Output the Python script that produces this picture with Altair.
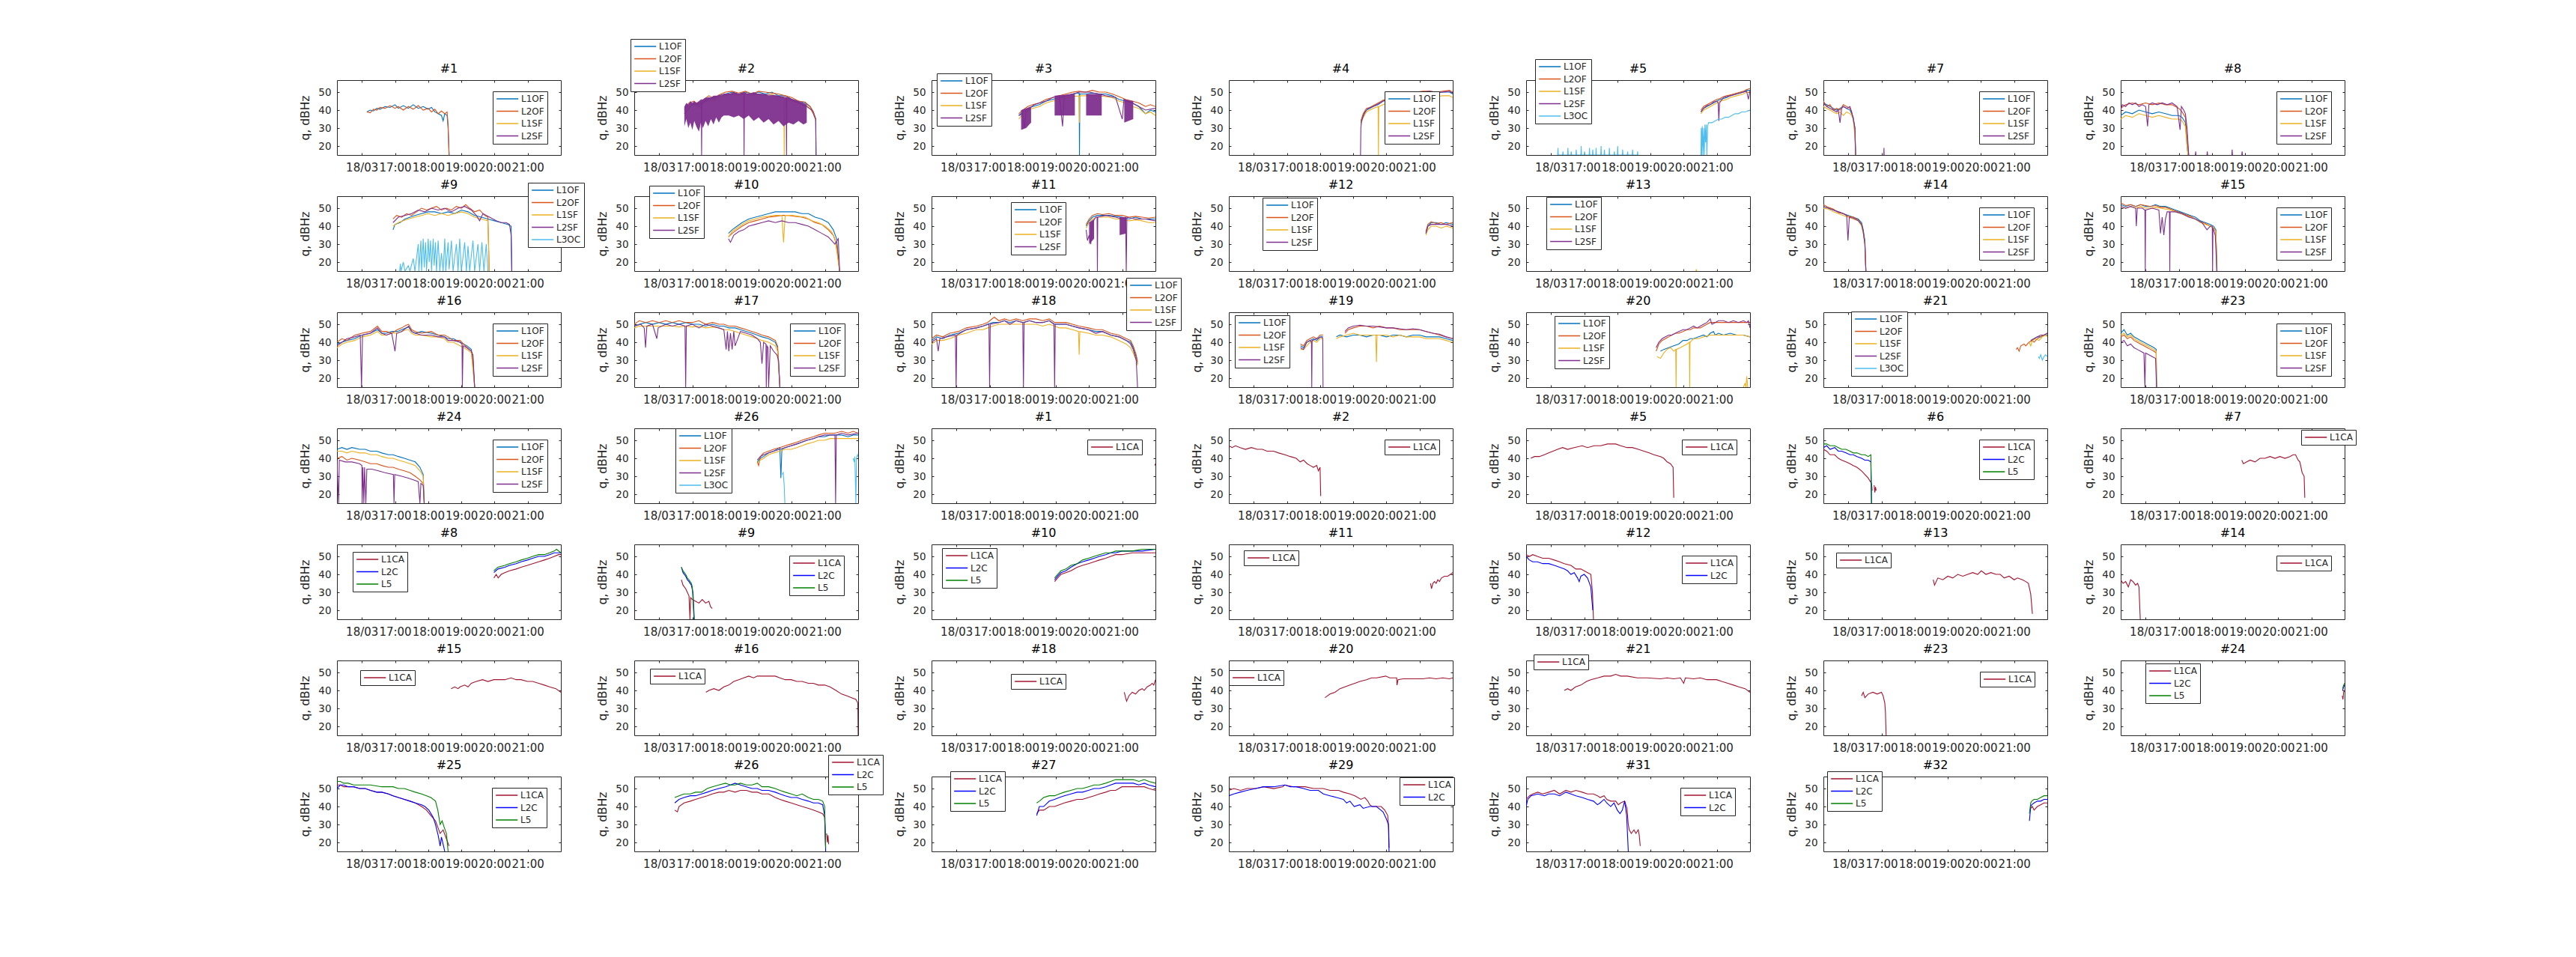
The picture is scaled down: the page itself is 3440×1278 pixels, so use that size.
import altair as alt
import pandas as pd

GLO4 = ["L1OF", "L2OF", "L1SF", "L2SF"]
GLO5 = ["L1OF", "L2OF", "L1SF", "L2SF", "L3OC"]
GPS1 = ["L1CA"]
GPS2 = ["L1CA", "L2C"]
GPS3 = ["L1CA", "L2C", "L5"]
COLORS = {"L1OF": "#0072BD", "L2OF": "#D95319", "L1SF": "#EDB120", "L2SF": "#7E2F8E",
          "L3OC": "#4DBEEE", "L1CA": "#A2142F", "L2C": "#0000FF", "L5": "#008000"}

X_TICKS = [16, 17, 18, 19, 20, 21]
Y_TICKS = [20, 30, 40, 50]
X_DOMAIN = [15.25, 22.0]
Y_DOMAIN = [15, 56.7]

# ---------------- GLONASS panels ----------------
G01 = {"title": "#1", "sigs": GLO4, "lines": {
    "L1OF": [[(16.15,39),(16.25,40),(16.35,39.5),(16.45,41),(16.55,40.5),(16.7,42),(16.85,41.5),(17.0,43),(17.1,41),(17.25,42.5),(17.4,41),(17.55,43),(17.7,41),(17.85,42),(18.0,40.5),(18.1,41.5),(18.2,39),(18.3,38),(18.4,37),(18.45,34),(18.5,38),(18.57,37),(18.6,30),(18.63,15)]],
    "L2OF": [[(16.15,39),(16.25,38.5),(16.35,40.5),(16.45,40),(16.55,41.5),(16.7,41),(16.85,42.5),(17.0,41),(17.1,42),(17.25,40),(17.4,42),(17.55,40.5),(17.7,42.5),(17.85,40),(18.0,41),(18.1,39),(18.2,40.5),(18.3,38),(18.4,39.5),(18.5,38),(18.57,39),(18.6,32),(18.63,15)]]}}

G02 = {"title": "#2", "sigs": GLO4, "lines": {
    "L1OF": [[(16.76,40),(16.9,43),(17.05,44),(17.2,42),(17.35,45),(17.5,47),(17.65,46),(17.8,48),(18.0,49),(18.2,50),(18.4,49),(18.6,50),(18.8,49),(19.0,50),(19.2,49),(19.4,50),(19.6,48),(19.8,48),(20.0,46),(20.2,45),(20.4,44),(20.55,42),(20.65,39),(20.72,35),(20.73,15)]],
    "L2OF": [[(16.76,41),(16.9,44),(17.05,45),(17.2,43),(17.35,46),(17.5,48),(17.65,46.5),(17.8,48.5),(18.0,50),(18.2,50.5),(18.4,49.5),(18.6,50.5),(18.8,49),(19.0,50.5),(19.2,50),(19.4,49.5),(19.6,49),(19.8,48),(20.0,47),(20.2,45),(20.4,44.5),(20.55,42),(20.65,39),(20.72,35)]],
    "L1SF": [[(16.76,39),(16.9,42),(17.05,43),(17.2,41),(17.35,44),(17.5,46),(17.65,45),(17.8,47),(18.0,48),(18.2,49),(18.4,48),(18.6,49),(18.8,48),(19.0,49),(19.2,48),(19.4,49),(19.6,47),(19.76,47),(19.77,15),(19.78,46),(20.0,45),(20.2,44),(20.4,43),(20.55,41),(20.65,38),(20.72,34)]],
    "L2SF": [[(16.76,38),(17.0,43),(17.27,44),(17.28,15),(17.29,44),(17.6,47),(18.0,49),(18.55,49),(18.56,15),(18.57,49),(19.0,49),(19.5,48),(19.83,47),(19.84,15),(19.85,47),(20.2,44),(20.45,42),(20.6,40),(20.72,35),(20.73,15)]]},
    "band": [[(16.76,31,42),(16.82,35,44),(16.88,30,43),(16.94,33,45),(17.0,29,44),(17.06,34,45),(17.12,31,44),(17.2,28,45),(17.26,33,46),(17.32,30,46),(17.4,34,47),(17.48,31,47),(17.56,35,47),(17.64,32,48),(17.72,36,48),(17.8,33,48),(17.88,36,48),(17.95,37,49),(18.1,37,49),(18.25,36,50),(18.4,37,49),(18.55,35,50),(18.7,37,49),(18.85,34,50),(19.0,36,49),(19.15,33,49),(19.3,35,48),(19.45,32,48),(19.6,34,48),(19.75,31,47),(19.9,33,47),(20.05,32,46),(20.2,34,45),(20.35,32,44),(20.45,33,43)]]}

G03 = {"title": "#3", "sigs": GLO4, "lines": {
    "L1OF": [[(17.88,37),(18.0,39),(18.15,41),(18.3,42),(18.5,43),(18.7,45),(18.9,46),(19.1,47),(19.3,48),(19.5,49),(19.7,49.5),(19.71,15),(19.72,49),(19.9,49),(20.1,49.5),(20.3,49),(20.5,49),(20.7,48),(20.9,46),(21.1,45),(21.3,44),(21.5,42),(21.7,38),(21.85,40),(22.0,39)]],
    "L2OF": [[(17.88,38),(18.0,40),(18.15,42),(18.3,43),(18.5,44),(18.7,46),(18.9,47),(19.1,48),(19.3,49),(19.5,50),(19.7,50.5),(19.9,50),(20.1,51),(20.3,50),(20.5,50),(20.7,49),(20.9,47.5),(21.1,46),(21.3,45),(21.5,44),(21.7,42),(21.85,43),(22.0,42)]],
    "L1SF": [[(17.88,35),(18.0,38),(18.15,40),(18.3,41),(18.5,42),(18.7,44),(18.9,45),(19.1,46),(19.3,47),(19.5,47.5),(19.7,48),(19.71,33),(19.72,48),(19.9,48),(20.1,48),(20.3,48),(20.5,47.5),(20.7,47),(20.9,45),(21.1,44),(21.3,42),(21.5,41),(21.7,38),(21.85,39),(22.0,37)]],
    "L2SF": [[(17.88,37),(18.0,38),(18.05,30),(18.1,39),(18.2,41),(18.35,43),(18.5,44),(18.7,45),(18.9,47),(19.1,48),(19.2,31),(19.25,48),(19.5,49),(19.7,50),(20.0,50),(20.3,49),(20.5,48),(20.8,47),(21.0,35),(21.05,46),(21.3,44),(21.5,42),(21.7,40),(22.0,41)]]},
    "band": [[(17.95,29,40),(18.1,30,41),(18.25,33,42)], [(18.96,37,48),(19.57,37,49)], [(19.91,37,49),(20.38,37,49)], [(21.06,33,46),(21.33,35,45)]]}

G04 = {"title": "#4", "sigs": GLO4, "lines": {
    "L1OF": [[(19.23,33),(19.3,37),(19.4,40),(19.5,41),(19.6,42),(19.75,43),(19.9,45),(20.1,46),(20.3,47),(20.5,48),(20.7,49),(20.9,49),(21.1,49.5),(21.3,50),(21.5,49.5),(21.7,50),(21.9,50),(22.0,49)]],
    "L2OF": [[(19.23,34),(19.3,38),(19.4,41),(19.5,41.5),(19.6,42.5),(19.75,44),(19.9,45.5),(20.1,46.5),(20.3,47.5),(20.5,48.5),(20.7,49.5),(20.9,50),(21.1,50.5),(21.3,50.5),(21.5,50),(21.7,50.5),(21.9,51),(22.0,50)]],
    "L1SF": [[(19.23,32),(19.3,36),(19.4,39),(19.5,40),(19.6,41),(19.75,42),(19.76,15),(19.77,42),(19.9,43),(20.1,44.5),(20.3,45.5),(20.5,46.5),(20.7,47.5),(20.9,47.5),(21.1,48),(21.3,48),(21.5,47.5),(21.7,48),(21.9,48),(22.0,47)]],
    "L2SF": [[(19.22,15),(19.23,30),(19.25,34),(19.35,39),(19.45,41),(19.6,42),(19.75,43.5),(19.9,45),(20.1,46),(20.3,47),(20.5,48),(20.7,49),(20.9,50),(21.1,50),(21.3,50.5),(21.5,50),(21.7,50),(21.9,50.5),(22.0,49.5)]]}}

G05 = {"title": "#5", "sigs": GLO5, "lines": {
    "L1OF": [[(20.52,39),(20.6,41),(20.7,42),(20.8,43),(20.9,44),(21.0,45),(21.1,46),(21.2,46.5),(21.3,47),(21.4,48),(21.5,48.5),(21.6,49),(21.7,49.5),(21.8,50),(21.9,51),(22.0,51)]],
    "L2OF": [[(20.52,40),(20.6,42),(20.7,43),(20.8,44),(20.9,45),(21.0,46),(21.1,46.5),(21.2,47.5),(21.3,48),(21.4,48.5),(21.5,49),(21.6,49.5),(21.7,50),(21.8,50.5),(21.9,51.5),(22.0,52)]],
    "L1SF": [[(20.52,38),(20.6,40),(20.7,41),(20.8,42),(20.9,43),(21.0,44),(21.1,45),(21.2,45.5),(21.3,46),(21.4,47),(21.5,47.5),(21.6,48),(21.7,48.5),(21.8,49),(21.9,50),(22.0,50)]],
    "L2SF": [[(20.52,39),(20.6,41),(20.7,42.5),(20.8,43),(20.9,44.5),(21.0,45),(21.04,44),(21.06,34),(21.08,44),(21.2,47),(21.3,47.5),(21.4,48),(21.5,48.5),(21.6,49),(21.7,49.5),(21.8,50),(21.9,50.5),(21.95,46),(22.0,51)]],
    "L3OC": [[(16.2,15),(16.21,19),(16.22,15),(16.35,15),(16.36,17),(16.37,15),(16.5,15),(16.51,19),(16.52,15),(16.6,15),(16.61,17),(16.62,15),(16.75,15),(16.76,18),(16.77,15),(16.9,15),(16.91,20),(16.92,15),(17.0,15),(17.01,17),(17.02,15),(17.15,15),(17.16,19),(17.17,15),(17.25,15),(17.26,18),(17.27,15),(17.35,15),(17.36,19),(17.37,15),(17.5,15),(17.51,20),(17.52,15),(17.6,15),(17.61,18),(17.62,15),(17.75,15),(17.76,19),(17.77,15),(17.9,15),(17.91,17),(17.92,15),(18.0,15),(18.01,20),(18.02,15),(18.15,15),(18.16,18),(18.17,15),(18.3,15),(18.31,17),(18.32,15),(18.45,15),(18.46,18),(18.47,15),(18.6,15),(18.61,17),(18.62,15)],
             [(20.52,15),(20.53,30),(20.54,15),(20.56,31),(20.58,15),(20.6,30),(20.62,15),(20.64,32),(20.66,22),(20.68,32),(20.7,15),(20.72,31),(20.75,33),(20.85,33),(20.95,34),(21.05,35),(21.15,35),(21.25,36),(21.35,36),(21.45,37),(21.55,38),(21.65,38),(21.75,39),(21.85,39),(22.0,40)]]}}

G07 = {"title": "#7", "sigs": GLO4, "lines": {
    "L1OF": [[(15.25,44),(15.35,43),(15.45,42),(15.55,41),(15.65,40),(15.75,41),(15.85,42),(15.95,41),(16.05,40),(16.1,38),(16.15,36),(16.2,30),(16.22,15)]],
    "L2OF": [[(15.25,45),(15.35,42),(15.45,43),(15.55,40),(15.65,41),(15.75,40),(15.85,43),(15.95,42),(16.05,41),(16.1,39),(16.15,35),(16.2,28),(16.22,15)]],
    "L1SF": [[(15.25,42),(15.35,41),(15.45,40),(15.55,39),(15.65,38),(15.75,39),(15.85,37),(15.95,39),(16.05,38),(16.1,37),(16.15,35),(16.2,25),(16.22,15)]],
    "L2SF": [[(15.25,44),(15.35,42),(15.45,41),(15.55,40),(15.65,39),(15.7,40),(15.75,33),(15.8,41),(15.85,42),(15.95,41),(16.05,42),(16.1,39),(16.15,35),(16.2,30),(16.22,15)],
             [(17.07,15),(17.075,19),(17.08,15)]]}}

G08 = {"title": "#8", "sigs": GLO4, "lines": {
    "L1OF": [[(15.25,37),(15.4,39),(15.6,38),(15.8,40),(16.0,39),(16.2,38),(16.4,39),(16.6,38),(16.8,37),(17.0,37),(17.1,36),(17.2,33),(17.25,20),(17.28,15)]],
    "L2OF": [[(15.25,41),(15.4,43),(15.6,44),(15.8,43),(16.0,44),(16.2,43),(16.4,44),(16.6,43),(16.8,43),(17.0,41),(17.1,39),(17.2,36),(17.25,25),(17.3,15)]],
    "L1SF": [[(15.25,35),(15.4,37),(15.6,36),(15.8,38),(16.0,37),(16.2,36),(16.4,37),(16.6,36),(16.8,35),(17.0,35),(17.1,34),(17.2,31),(17.25,20),(17.28,15)]],
    "L2SF": [[(15.25,40),(15.3,43),(15.4,42),(15.5,44),(15.6,43),(15.7,44),(15.8,42),(15.9,43),(16.0,42),(16.06,31),(16.1,43),(16.2,44),(16.35,43),(16.5,44),(16.65,43),(16.8,44),(16.95,42),(17.04,29),(17.08,42),(17.15,40),(17.2,38),(17.25,30),(17.3,15)],
             [(17.5,15),(17.51,17),(17.52,15)], [(17.85,15),(17.86,17),(17.87,15)], [(18.6,15),(18.61,18),(18.62,15)], [(18.9,15),(18.91,17),(18.92,15)]]}}

G09 = {"title": "#9", "sigs": GLO5, "lines": {
    "L1OF": [[(16.94,38),(17.0,41),(17.15,42),(17.3,44),(17.45,45),(17.6,46),(17.8,47),(18.0,48),(18.2,48),(18.4,47),(18.6,48),(18.8,47),(19.0,49),(19.2,48),(19.4,46),(19.6,45),(19.8,44),(20.0,43),(20.2,42),(20.4,41),(20.5,40),(20.52,15)]],
    "L2OF": [[(16.94,44),(17.05,46),(17.2,45),(17.35,47),(17.5,46),(17.65,48),(17.8,50),(17.95,49),(18.1,50),(18.25,51),(18.4,49),(18.55,50),(18.7,49),(18.85,51),(19.0,50),(19.13,52),(19.25,50),(19.4,48),(19.55,49),(19.7,46),(19.8,45),(19.84,15)]],
    "L1SF": [[(16.94,40),(17.1,42),(17.25,43),(17.4,44),(17.6,45),(17.8,46),(18.0,47),(18.2,46),(18.4,47),(18.6,46),(18.8,47),(19.0,48),(19.2,47),(19.4,45),(19.6,44),(19.8,43),(19.84,15)]],
    "L2SF": [[(16.94,42),(17.1,45),(17.3,46),(17.5,47),(17.7,49),(17.9,48),(18.1,50),(18.3,49),(18.5,50),(18.7,48),(18.9,50),(19.1,51),(19.3,49),(19.45,46),(19.55,43),(19.65,47),(19.85,45),(20.05,43),(20.2,42),(20.35,42),(20.45,41),(20.5,35),(20.52,15)]],
    "L3OC": [[(17.14,15),(17.16,19),(17.18,15),(17.25,20),(17.3,15),(17.4,18),(17.45,15),(17.55,22),(17.6,15),(17.7,30),(17.72,15),(17.78,32),(17.8,15),(17.85,33),(17.88,17),(17.92,31),(17.95,15),(18.0,33),(18.03,20),(18.07,32),(18.1,15),(18.15,33),(18.18,18),(18.22,31),(18.25,15),(18.3,32),(18.35,15),(18.4,25),(18.45,15),(18.5,33),(18.53,15),(18.6,31),(18.63,16),(18.7,32),(18.75,15),(18.85,30),(18.9,15),(18.95,33),(19.0,15),(19.1,31),(19.15,15),(19.2,29),(19.25,15),(19.35,32),(19.4,15),(19.5,30),(19.55,15),(19.62,31),(19.68,15),(19.75,30),(19.8,15)]]}}

G10 = {"title": "#10", "sigs": GLO4, "lines": {
    "L1OF": [[(18.09,36),(18.2,38),(18.35,40),(18.5,42),(18.7,44),(18.9,45),(19.1,46),(19.3,47),(19.5,48),(19.7,48),(19.9,48),(20.1,48),(20.3,47),(20.5,47),(20.7,45),(20.9,44),(21.1,42),(21.25,38),(21.35,33),(21.44,15)]],
    "L2OF": [[(18.09,34),(18.2,36),(18.35,38),(18.5,40),(18.7,42),(18.9,43),(19.1,44),(19.3,45),(19.5,45.5),(19.7,46),(19.9,46),(20.1,45.5),(20.3,45),(20.5,44),(20.7,42),(20.9,41),(21.1,38),(21.25,35),(21.35,30),(21.44,15)]],
    "L1SF": [[(18.09,34),(18.2,37),(18.35,39),(18.5,41),(18.7,43),(18.9,44),(19.1,45),(19.3,45.5),(19.5,46),(19.7,46),(19.75,31),(19.8,46),(20.0,46),(20.2,45.5),(20.4,45),(20.6,43),(20.8,42),(21.0,40),(21.2,37),(21.3,33),(21.44,15)]],
    "L2SF": [[(18.09,33),(18.15,31),(18.25,35),(18.4,37),(18.55,38),(18.7,40),(18.9,41),(19.1,42),(19.3,43),(19.5,42),(19.7,43),(19.9,42),(20.1,42),(20.3,41),(20.5,40),(20.7,38),(20.9,36),(21.1,34),(21.3,30),(21.4,33),(21.44,15)]]}}

G11 = {"title": "#11", "sigs": GLO4, "lines": {
    "L1OF": [[(19.91,40),(20.0,43),(20.1,45),(20.25,46),(20.4,46),(20.6,46),(20.8,45.5),(21.0,45),(21.2,44),(21.4,45),(21.6,44),(21.8,44),(22.0,44)]],
    "L2OF": [[(19.91,41),(20.0,44),(20.1,46),(20.25,47),(20.4,46.5),(20.6,47),(20.8,46),(21.0,46),(21.2,45),(21.4,45.5),(21.6,45),(21.8,44.5),(22.0,45)]],
    "L1SF": [[(19.91,39),(20.0,42),(20.1,44),(20.25,45),(20.4,45),(20.6,45),(20.8,44),(21.0,44),(21.2,43),(21.4,43.5),(21.6,43),(21.8,42),(22.0,42)]],
    "L2SF": [[(19.91,38),(19.95,32),(20.0,35),(20.05,30),(20.1,42),(20.2,45),(20.24,45),(20.25,15),(20.26,45),(20.5,46),(20.8,45),(21.0,44),(21.1,45),(21.12,15),(21.14,45),(21.4,44),(21.7,44),(22.0,43)]]},
    "band": [[(20.0,30,42),(20.15,33,44)], [(20.92,35,45),(21.12,36,45)]]}

G12 = {"title": "#12", "sigs": GLO4, "lines": {
    "L1OF": [[(21.19,36),(21.25,40),(21.35,42),(21.5,42),(21.65,41),(21.8,42),(22.0,41)]],
    "L2OF": [[(21.19,37),(21.25,41),(21.35,42.5),(21.5,41.5),(21.65,42),(21.8,41),(22.0,42)]],
    "L1SF": [[(21.19,35),(21.25,38),(21.35,40),(21.5,40),(21.65,39),(21.8,40),(22.0,39)]],
    "L2SF": [[(21.19,36),(21.25,40),(21.35,41),(21.5,41),(21.65,41),(21.8,41),(22.0,40)]]}}

G13 = {"title": "#13", "sigs": GLO4, "lines": {
    "L1SF": [[(20.37,15),(20.38,16),(20.39,15)]]}}

G14 = {"title": "#14", "sigs": GLO4, "lines": {
    "L1OF": [[(15.25,51),(15.4,50),(15.55,49),(15.7,48),(15.85,47),(16.0,46),(16.15,45),(16.3,44),(16.4,42),(16.45,38),(16.5,32),(16.53,15)]],
    "L2OF": [[(15.25,52),(15.4,50.5),(15.55,49.5),(15.7,47.5),(15.85,47),(16.0,45.5),(16.15,45),(16.3,43.5),(16.4,41),(16.45,37),(16.5,30),(16.53,15)]],
    "L1SF": [[(15.25,50),(15.4,49.5),(15.55,48),(15.7,47),(15.85,46),(16.0,45),(16.15,44),(16.3,43),(16.4,40),(16.45,36),(16.5,30),(16.53,15)]],
    "L2SF": [[(15.25,51),(15.4,50),(15.55,49),(15.7,48),(15.85,47),(15.95,46),(15.99,32),(16.03,45),(16.15,44.5),(16.3,43),(16.4,41),(16.45,37),(16.5,30),(16.53,15)]]}}

G15 = {"title": "#15", "sigs": GLO4, "lines": {
    "L1OF": [[(15.25,52),(15.4,51),(15.55,52),(15.7,51),(15.85,52),(16.0,51),(16.15,51),(16.3,52),(16.45,51),(16.6,51),(16.75,50),(16.9,49),(17.05,48),(17.2,47),(17.35,46),(17.5,45),(17.65,43),(17.8,42),(17.95,41),(18.05,40),(18.12,38),(18.15,15)]],
    "L2OF": [[(15.25,53),(15.4,51.5),(15.55,52),(15.7,51),(15.85,52),(16.0,51.5),(16.15,51),(16.3,51.5),(16.45,50.5),(16.6,50.5),(16.75,49.5),(16.9,48.5),(17.05,47.5),(17.2,46.5),(17.35,45.5),(17.5,44),(17.65,42.5),(17.8,41.5),(17.95,40),(18.05,39),(18.12,37),(18.15,15)]],
    "L1SF": [[(15.25,51),(15.4,50),(15.55,51),(15.7,50),(15.85,51),(16.0,50),(16.15,50),(16.3,50.5),(16.45,50),(16.6,49.5),(16.75,49),(16.9,48),(17.05,47),(17.2,46),(17.35,45),(17.5,44),(17.65,42),(17.8,41),(17.95,40),(18.05,39),(18.12,37),(18.15,15)]],
    "L2SF": [[(15.25,51),(15.4,50),(15.55,51),(15.7,50),(15.72,40),(15.75,50),(15.9,50),(15.98,49),(15.99,15),(16.0,49),(16.2,50),(16.4,49),(16.45,36),(16.5,45),(16.55,35),(16.6,44),(16.65,48),(16.72,48),(16.73,15),(16.74,48),(16.9,48),(17.1,47),(17.3,45),(17.5,44),(17.7,42),(17.85,38),(17.95,40),(18.01,40),(18.02,15),(18.03,39),(18.1,35),(18.15,15)]]}}

G16 = {"title": "#16", "sigs": GLO4, "lines": {
    "L1OF": [[(15.25,39),(15.4,40),(15.55,41),(15.79,42),(16.0,44),(16.26,45),(16.47,47),(16.6,45),(16.74,45),(16.9,46),(17.07,46),(17.2,47),(17.34,48),(17.41,48.5),(17.5,46),(17.61,45),(17.8,46),(18.09,45),(18.3,44),(18.49,43),(18.6,42),(18.76,42),(18.96,40),(19.17,38),(19.3,36),(19.35,30),(19.4,15)]],
    "L2OF": [[(15.25,40),(15.4,42),(15.55,41),(15.79,44),(16.0,45),(16.26,46),(16.47,49),(16.6,46),(16.74,46),(16.9,45),(17.07,47),(17.2,48),(17.34,49.5),(17.41,50),(17.5,47),(17.61,46),(17.8,45),(18.09,46),(18.3,44),(18.49,44),(18.6,43),(18.76,41),(18.96,41),(19.17,37),(19.3,35),(19.35,28),(19.4,15)]],
    "L1SF": [[(15.25,37),(15.4,39),(15.55,40),(15.79,41),(16.0,43),(16.26,44),(16.47,46),(16.6,44),(16.74,44),(16.9,45),(17.07,45),(17.2,46),(17.34,47),(17.41,47),(17.5,45),(17.61,44),(17.8,44),(18.09,43),(18.3,43),(18.49,42),(18.6,40),(18.76,40),(18.96,38),(19.17,36),(19.3,34),(19.4,15)]],
    "L2SF": [[(15.25,38),(15.4,40),(15.55,42),(15.79,43),(15.95,44),(15.99,15),(16.02,44),(16.26,45),(16.47,48),(16.6,45),(16.74,44),(16.9,45),(17.0,35),(17.05,45),(17.2,46),(17.34,48),(17.41,49),(17.5,46),(17.61,45),(17.8,44),(18.09,44),(18.3,43),(18.49,43),(18.6,41),(18.76,41),(18.96,40),(19.02,39),(19.03,15),(19.05,38),(19.17,37),(19.3,35),(19.35,33),(19.4,15)]]}}

G17 = {"title": "#17", "sigs": GLO4, "lines": {
    "L1OF": [[(15.25,49),(15.4,50),(15.6,51),(15.8,50),(16.0,51),(16.2,50),(16.4,51),(16.6,50),(16.8,51),(17.0,50),(17.2,50),(17.4,49),(17.61,50),(17.8,49),(17.95,49),(18.1,48),(18.29,48),(18.45,47),(18.63,46),(18.8,45),(18.96,44),(19.1,43),(19.3,42),(19.5,40),(19.57,37),(19.64,15)]],
    "L2OF": [[(15.25,50),(15.4,52),(15.6,51),(15.8,52),(16.0,51),(16.2,52),(16.4,51),(16.6,52),(16.8,51),(17.0,51),(17.2,52),(17.4,50),(17.61,51),(17.8,50),(17.95,50),(18.1,49),(18.29,49),(18.45,48),(18.63,47),(18.8,46),(18.96,45),(19.1,44),(19.3,43),(19.5,41),(19.57,38),(19.64,15)]],
    "L1SF": [[(15.25,48),(15.4,49),(15.6,49),(15.8,49),(16.0,49),(16.2,49),(16.4,49),(16.6,48.5),(16.8,49),(17.0,48.5),(17.2,49),(17.4,48),(17.61,48.5),(17.8,48),(17.95,47),(18.1,47),(18.29,46),(18.45,45),(18.63,44),(18.8,43),(18.96,42),(19.1,41),(19.3,40),(19.5,38),(19.57,35),(19.64,15)]],
    "L2SF": [[(15.25,49),(15.45,50),(15.55,48),(15.59,37),(15.63,49),(15.8,50),(15.93,42),(15.97,48),(16.2,50),(16.4,49),(16.6,50),(16.78,49),(16.8,15),(16.82,49),(17.0,50),(17.2,48),(17.4,50),(17.61,49),(17.8,48),(17.95,47),(18.02,36),(18.06,46),(18.1,35),(18.15,45),(18.2,36),(18.25,46),(18.29,38),(18.45,46),(18.63,45),(18.8,44),(18.96,42),(19.05,40),(19.1,28),(19.15,40),(19.22,39),(19.23,15),(19.25,38),(19.28,37),(19.3,15),(19.35,38),(19.45,35),(19.55,33),(19.6,30),(19.64,15)]]}}

G18 = {"title": "#18", "sigs": GLO4, "lines": {
    "L1OF": [[(15.25,41),(15.4,43),(15.59,42),(15.8,44),(16.06,45),(16.3,47),(16.6,48),(16.8,49),(16.94,50),(17.1,51),(17.28,51),(17.45,52),(17.61,51),(17.8,52),(18.0,51),(18.2,52),(18.4,51),(18.6,51),(18.8,52),(18.96,50),(19.1,50),(19.3,50),(19.5,49),(19.7,48),(19.98,47),(20.2,46),(20.4,46),(20.65,44),(20.9,43),(21.12,41),(21.25,40),(21.33,37),(21.42,32),(21.46,28)]],
    "L2OF": [[(15.25,42),(15.4,44),(15.59,43),(15.8,45),(16.06,46),(16.3,48),(16.6,49),(16.8,50),(16.94,51),(17.14,54),(17.28,52),(17.45,53),(17.61,52),(17.8,53),(18.0,52),(18.2,53),(18.4,53),(18.6,52),(18.8,53),(18.96,51),(19.1,51),(19.3,51),(19.5,50),(19.7,49),(19.98,48),(20.2,47),(20.4,47),(20.65,45),(20.9,44),(21.12,42),(21.25,41),(21.33,38),(21.42,33),(21.46,29)]],
    "L1SF": [[(15.25,39),(15.4,41),(15.59,41),(15.8,42),(16.06,44),(16.3,45),(16.6,47),(16.8,47),(16.94,48),(17.1,49),(17.28,50),(17.45,50),(17.61,50),(17.8,50),(18.0,50),(18.2,50),(18.4,50),(18.6,49),(18.8,50),(18.96,49),(19.1,48),(19.3,48),(19.5,47),(19.68,46),(19.7,33),(19.72,46),(19.98,45),(20.2,44),(20.4,44),(20.65,43),(20.9,41),(21.12,39),(21.25,37),(21.33,34),(21.42,30),(21.46,27)]],
    "L2SF": [[(15.25,40),(15.4,42),(15.45,35),(15.5,42),(15.7,43),(15.97,44),(15.99,15),(16.01,44),(16.3,47),(16.6,48),(16.8,49),(16.98,50),(17.0,15),(17.02,50),(17.28,51),(17.45,52),(17.61,50),(17.8,52),(18.0,51),(18.02,15),(18.04,51),(18.2,52),(18.4,51),(18.6,51),(18.8,52),(18.94,50),(18.96,15),(18.98,50),(19.3,50),(19.5,49),(19.7,48),(19.98,47),(20.2,45),(20.4,46),(20.65,44),(20.9,43),(21.12,41),(21.25,39),(21.33,36),(21.42,30),(21.46,15)]]}}

G19 = {"title": "#19", "sigs": GLO4, "lines": {
    "L1OF": [[(17.41,38),(17.5,37),(17.6,40),(17.7,41),(17.8,42),(17.9,41),(18.0,43),(18.09,43)],
             [(18.49,43),(18.6,44),(18.8,43),(19.0,44),(19.2,44),(19.4,43),(19.6,44),(19.8,44),(20.0,43),(20.2,44),(20.4,44),(20.6,43),(20.8,44),(21.0,44),(21.2,43),(21.4,43),(21.6,43),(21.8,42),(22.0,41)]],
    "L2OF": [[(17.41,39),(17.5,38),(17.6,41),(17.7,42),(17.8,43),(17.9,42),(18.0,44),(18.09,44)],
             [(18.75,45),(18.85,47),(19.0,48),(19.2,49),(19.4,49),(19.6,48),(19.8,49),(20.0,48),(20.2,48),(20.4,47),(20.6,47),(20.8,47),(21.0,47),(21.2,46),(21.4,45),(21.6,44),(21.8,43),(22.0,42)]],
    "L1SF": [[(17.41,36),(17.5,36),(17.6,38),(17.7,40),(17.8,41),(17.9,40),(18.0,42),(18.09,42)],
             [(18.49,42),(18.6,43),(18.8,44),(19.0,45),(19.2,44),(19.4,44),(19.6,44),(19.68,44),(19.7,29),(19.72,44),(20.0,44),(20.2,43),(20.4,44),(20.6,43),(20.8,43),(21.0,43),(21.2,42),(21.4,42),(21.6,42),(21.8,41),(22.0,40)]],
    "L2SF": [[(17.41,37),(17.5,36),(17.6,40),(17.7,41),(17.74,40),(17.75,15),(17.76,41),(17.9,42),(18.05,43),(18.08,42),(18.09,15)],
             [(18.75,46),(18.85,48),(19.0,49),(19.2,49.5),(19.4,49),(19.6,49),(19.8,48.5),(20.0,48),(20.2,48),(20.4,47.5),(20.6,47),(20.8,47.5),(21.0,47),(21.2,46),(21.4,45),(21.6,44.5),(21.8,43),(22.0,42)]]}}

G20 = {"title": "#20", "sigs": GLO4, "lines": {
    "L1OF": [[(19.3,35),(19.4,36),(19.55,37),(19.7,38),(19.85,39),(19.98,41),(20.1,41),(20.2,42),(20.3,42),(20.45,43),(20.6,44),(20.7,43),(20.8,45),(20.9,46),(20.95,44),(21.05,45),(21.2,44),(21.4,45),(21.6,44),(21.8,44),(22.0,43)]],
    "L2OF": [[(19.17,35),(19.25,39),(19.35,41),(19.45,42),(19.55,43),(19.64,44),(19.75,45),(19.85,45),(19.98,46),(20.1,47),(20.2,47),(20.3,48),(20.4,48),(20.5,48),(20.6,49),(20.7,50),(20.8,51),(20.95,51),(21.1,51),(21.3,51),(21.5,51),(21.7,51),(21.9,51),(22.0,51)]],
    "L1SF": [[(19.2,32),(19.3,31),(19.4,34),(19.5,36),(19.6,37),(19.7,35),(19.76,36),(19.77,15),(19.78,36),(19.9,37),(20.0,38),(20.1,39),(20.17,40),(20.18,15),(20.19,40),(20.3,42),(20.45,42),(20.6,43),(20.8,44),(21.0,44),(21.2,44),(21.4,44),(21.6,44),(21.8,44),(22.0,43)],
             [(21.8,15),(21.85,17),(21.88,15),(21.9,21),(21.93,15)]],
    "L2SF": [[(19.17,37),(19.25,40),(19.35,42),(19.45,43),(19.55,44),(19.64,44),(19.75,45),(19.85,46),(19.98,47),(20.1,47),(20.2,48),(20.3,49),(20.4,48),(20.5,49),(20.6,50),(20.7,51),(20.8,53),(20.85,50),(20.95,51),(21.05,52),(21.2,52),(21.35,51),(21.5,52),(21.65,51),(21.8,52),(21.9,51),(21.95,52),(22.0,48)]]}}

G21 = {"title": "#21", "sigs": GLO5, "lines": {
    "L1OF": [[(21.5,41),(21.6,42),(21.7,43),(21.8,43),(21.9,44),(22.0,44)]],
    "L2OF": [[(21.06,36),(21.1,37),(21.15,35),(21.2,38),(21.3,39),(21.35,38),(21.45,40),(21.55,41),(21.6,40),(21.7,42),(21.8,43),(21.9,44),(22.0,45)]],
    "L1SF": [[(21.45,40),(21.5,38),(21.55,41),(21.65,42),(21.75,41),(21.85,43),(21.95,44),(22.0,43)]],
    "L2SF": [[(21.5,41),(21.6,42),(21.7,43),(21.8,44),(21.9,44),(22.0,45)]],
    "L3OC": [[(21.73,32),(21.76,31),(21.8,33),(21.85,30),(21.9,32),(21.95,33),(22.0,32)]]}}

G23 = {"title": "#23", "sigs": GLO4, "lines": {
    "L1OF": [[(15.25,45),(15.35,47),(15.45,44),(15.55,45),(15.65,43),(15.75,42),(15.85,41),(15.95,40),(16.05,39),(16.15,38),(16.25,37),(16.32,36),(16.33,15)]],
    "L2OF": [[(15.25,43),(15.35,44),(15.45,42),(15.55,43),(15.65,41),(15.75,40),(15.85,39),(15.95,38),(16.05,37),(16.15,36),(16.25,35),(16.32,34),(16.33,15)]],
    "L1SF": [[(15.25,44),(15.35,45),(15.45,43),(15.55,44),(15.65,42),(15.75,41),(15.85,40),(15.95,39),(16.05,38),(16.15,37),(16.25,36),(16.32,35),(16.33,15)]],
    "L2SF": [[(15.25,40),(15.35,41),(15.45,38),(15.55,39),(15.65,37),(15.75,36),(15.85,35),(15.95,34),(15.98,15),(16.0,34),(16.1,33),(16.2,32),(16.3,31),(16.33,15)]]}}

G24 = {"title": "#24", "sigs": GLO4, "lines": {
    "L1OF": [[(15.25,45),(15.4,46),(15.55,45),(15.7,46),(15.93,45),(16.1,45),(16.26,44),(16.45,44),(16.6,43),(16.8,42),(16.94,42),(17.1,41),(17.28,40),(17.45,39),(17.61,38),(17.75,35),(17.85,31),(17.88,15)]],
    "L2OF": [[(15.25,40),(15.4,41),(15.55,39),(15.7,40),(15.93,39),(16.1,38),(16.26,37),(16.45,37),(16.6,36),(16.8,35),(16.94,35),(17.1,34),(17.28,33),(17.45,32),(17.61,30),(17.75,28),(17.85,26),(17.88,15)]],
    "L1SF": [[(15.25,44),(15.4,44),(15.55,43),(15.7,44),(15.93,43),(16.1,43),(16.26,42),(16.45,42),(16.6,41),(16.8,40),(16.94,40),(17.1,39),(17.28,38),(17.45,37),(17.61,36),(17.75,33),(17.85,30),(17.88,15)]],
    "L2SF": [[(15.25,39),(15.3,15),(15.32,39),(15.5,38),(15.7,38),(15.93,37),(16.0,36),(16.01,15),(16.03,35),(16.06,15),(16.08,35),(16.12,15),(16.15,34),(16.3,34),(16.5,33),(16.7,32),(16.95,31),(16.97,15),(16.99,31),(17.2,30),(17.4,29),(17.55,28),(17.7,27),(17.75,15),(17.78,26),(17.85,25),(17.88,15)]]}}

G26 = {"title": "#26", "sigs": GLO5, "lines": {
    "L1OF": [[(18.96,38),(19.05,40),(19.15,41),(19.3,43),(19.45,44),(19.55,45),(19.64,46),(19.67,29),(19.7,45),(19.8,46),(19.98,47),(20.15,48),(20.3,49),(20.45,50),(20.65,51),(20.8,52),(20.99,52),(21.15,53),(21.3,53),(21.5,53),(21.7,52),(21.85,53),(22.0,53)]],
    "L2OF": [[(18.96,38),(19.0,36),(19.05,41),(19.15,43),(19.3,44),(19.45,45),(19.64,46),(19.8,47),(19.98,48),(20.15,49),(20.3,50),(20.45,51),(20.65,52),(20.8,53),(20.99,54),(21.15,54),(21.3,54),(21.5,55),(21.7,54),(21.85,55),(22.0,54)]],
    "L1SF": [[(18.96,37),(19.05,39),(19.15,40),(19.3,42),(19.45,43),(19.64,44),(19.8,45),(19.98,45),(20.15,46),(20.3,47),(20.45,48),(20.65,49),(20.8,50),(20.99,50),(21.15,51),(21.3,51),(21.5,51),(21.7,51),(21.85,51),(22.0,51)]],
    "L2SF": [[(18.96,39),(19.05,41),(19.15,42),(19.3,43),(19.45,44),(19.64,45),(19.8,46),(19.98,47),(20.15,48),(20.3,49),(20.45,50),(20.65,51),(20.8,52),(20.99,53),(21.3,53),(21.32,15),(21.34,53),(21.5,54),(21.7,53),(22.0,54)]],
    "L3OC": [[(19.71,31),(19.74,32),(19.77,25),(19.79,15)],
             [(21.85,40),(21.88,38),(21.9,41),(21.93,15),(21.95,40),(21.98,42),(22.0,41)]]}}

# ---------------- GPS panels ----------------
P01 = {"title": "#1", "sigs": GPS1, "lines": {"L1CA": [[(21.98,36),(22.0,37)]]}}

P02 = {"title": "#2", "sigs": GPS1, "lines": {
    "L1CA": [[(15.25,47),(15.35,46),(15.45,47),(15.59,46),(15.75,45),(15.93,46),(16.1,45),(16.26,45),(16.4,44),(16.6,44),(16.75,43),(16.94,42),(17.1,41),(17.28,40),(17.4,38),(17.5,39),(17.61,37),(17.7,36),(17.8,35),(17.9,36),(17.95,33),(18.0,35),(18.02,19)]]}}

P05 = {"title": "#5", "sigs": GPS1, "lines": {
    "L1CA": [[(15.39,40),(15.5,41),(15.65,41),(15.8,42),(15.93,43),(16.06,44),(16.2,45),(16.35,46),(16.5,45),(16.7,46),(16.94,47),(17.1,46),(17.3,47),(17.5,47),(17.7,48),(17.95,48),(18.1,47),(18.29,46),(18.45,46),(18.63,45),(18.8,44),(18.96,43),(19.1,42),(19.3,41),(19.4,40),(19.5,38),(19.6,37),(19.68,35),(19.7,18)]]}}

P06 = {"title": "#6", "sigs": GPS3, "lines": {
    "L1CA": [[(15.25,45),(15.35,44),(15.45,42),(15.59,42),(15.7,40),(15.8,39),(15.93,38),(16.05,37),(16.15,36),(16.26,35),(16.4,33),(16.5,31),(16.6,29),(16.7,26),(16.72,22)],
             [(16.78,25),(16.8,21),(16.82,24),(16.84,22)]],
    "L2C": [[(15.25,46),(15.35,47),(15.45,45),(15.59,46),(15.7,44),(15.8,44),(15.93,43),(16.05,42),(16.15,42),(16.26,41),(16.4,40),(16.5,39),(16.6,39),(16.68,38),(16.7,15)]],
    "L5": [[(15.25,48),(15.35,48),(15.45,47),(15.59,47),(15.7,46),(15.8,45),(15.93,45),(16.05,44),(16.15,43),(16.26,43),(16.4,42),(16.5,42),(16.6,41),(16.68,42),(16.7,15)]]}}

P07 = {"title": "#7", "sigs": GPS1, "lines": {
    "L1CA": [[(18.9,39),(18.95,37),(19.05,38),(19.15,39),(19.3,38),(19.45,40),(19.6,40),(19.75,41),(19.9,40),(20.05,41),(20.2,40),(20.35,41),(20.45,42),(20.52,42),(20.6,39),(20.65,38),(20.72,32),(20.78,30),(20.8,18)]]}}

P08 = {"title": "#8", "sigs": GPS3, "lines": {
    "L1CA": [[(19.98,38),(20.05,40),(20.11,38),(20.2,40),(20.31,41),(20.45,42),(20.65,43),(20.8,44),(20.99,45),(21.15,46),(21.33,47),(21.5,48),(21.66,49),(21.8,50),(21.93,51),(22.0,51)]],
    "L2C": [[(19.98,41),(20.1,43),(20.31,44),(20.45,45),(20.65,46),(20.8,47),(20.99,48),(21.15,49),(21.33,50),(21.5,50),(21.66,51),(21.8,52),(21.87,52),(22.0,52)]],
    "L5": [[(19.98,42),(20.1,44),(20.31,45),(20.45,46),(20.65,47),(20.8,48),(20.99,49),(21.15,50),(21.33,51),(21.5,51),(21.66,52),(21.8,53),(21.87,54),(22.0,52)]]}}

P09 = {"title": "#9", "sigs": GPS3, "lines": {
    "L1CA": [[(16.67,37),(16.72,34),(16.8,32),(16.85,30),(16.9,28),(16.93,15),(16.95,27),(17.0,26),(17.1,25),(17.2,24),(17.3,26),(17.4,24),(17.5,25),(17.55,22),(17.6,21)]],
    "L2C": [[(16.67,44),(16.72,41),(16.8,39),(16.85,37),(16.9,36),(16.97,34),(17.02,30),(17.06,15)]],
    "L5": [[(16.67,44),(16.72,42),(16.8,40),(16.85,38),(16.9,37),(16.97,35),(17.0,33),(17.05,15)]]}}

P10 = {"title": "#10", "sigs": GPS3, "lines": {
    "L1CA": [[(18.96,36),(19.05,38),(19.15,40),(19.3,41),(19.45,42),(19.64,44),(19.8,45),(19.98,46),(20.15,47),(20.31,48),(20.5,49),(20.65,50),(20.8,51),(20.99,51),(21.3,52),(21.6,52),(22.0,52)]],
    "L2C": [[(18.96,37),(19.05,39),(19.15,41),(19.3,42),(19.45,44),(19.64,46),(19.8,47),(19.98,48),(20.15,49),(20.31,50),(20.5,51),(20.65,52),(20.8,52),(20.99,53),(21.3,53),(21.6,53),(22.0,54)]],
    "L5": [[(18.96,38),(19.05,40),(19.15,42),(19.3,43),(19.45,45),(19.64,46),(19.8,48),(19.98,49),(20.15,50),(20.31,51),(20.5,52),(20.65,52),(20.8,53),(20.99,53),(21.3,53),(21.6,54),(22.0,54)]]}}

P11 = {"title": "#11", "sigs": GPS1, "lines": {
    "L1CA": [[(21.33,35),(21.36,32),(21.4,35),(21.45,36),(21.5,35),(21.55,37),(21.6,36),(21.66,38),(21.75,39),(21.85,39),(21.93,40),(22.0,41)]]}}

P12 = {"title": "#12", "sigs": GPS2, "lines": {
    "L1CA": [[(15.25,51),(15.35,50),(15.45,51),(15.59,50),(15.75,49),(15.93,49),(16.1,48),(16.26,47),(16.4,46),(16.6,45),(16.75,43),(16.9,43),(17.0,42),(17.1,41),(17.2,40),(17.25,30),(17.28,15)]],
    "L2C": [[(15.25,50),(15.35,48),(15.45,47),(15.59,47),(15.75,46),(15.93,46),(16.1,45),(16.26,44),(16.4,43),(16.5,42),(16.6,40),(16.7,41),(16.8,38),(16.85,36),(16.9,39),(17.0,40),(17.1,38),(17.2,33),(17.26,20)]]}}

P13 = {"title": "#13", "sigs": GPS1, "lines": {
    "L1CA": [[(18.56,37),(18.6,34),(18.7,38),(18.85,37),(19.0,39),(19.15,38),(19.3,40),(19.45,39),(19.6,40),(19.75,41),(19.9,40),(20.01,42),(20.15,40),(20.3,41),(20.45,40),(20.58,40),(20.7,38),(20.85,39),(21.0,37),(21.1,38),(21.25,37),(21.35,36),(21.43,35),(21.5,29),(21.55,18)]]}}

P14 = {"title": "#14", "sigs": GPS1, "lines": {
    "L1CA": [[(15.25,37),(15.32,35),(15.4,36),(15.48,33),(15.55,37),(15.62,36),(15.7,34),(15.76,35),(15.8,33),(15.84,15)]]}}

P15 = {"title": "#15", "sigs": GPS1, "lines": {
    "L1CA": [[(18.69,41),(18.8,42),(18.9,41),(18.96,42),(19.1,43),(19.2,42),(19.3,44),(19.45,45),(19.64,46),(19.8,45),(19.98,46),(20.15,46),(20.31,46),(20.5,47),(20.65,46),(20.8,46),(20.99,45),(21.15,45),(21.33,44),(21.5,43),(21.66,42),(21.85,41),(22.0,39)]]}}

P16 = {"title": "#16", "sigs": GPS1, "lines": {
    "L1CA": [[(17.41,39),(17.5,40),(17.65,41),(17.8,40),(17.95,42),(18.1,43),(18.25,45),(18.4,46),(18.55,47),(18.7,48),(18.85,47),(18.96,48),(19.1,48),(19.3,48),(19.5,48),(19.64,47),(19.8,46),(19.98,46),(20.15,45),(20.31,45),(20.5,44),(20.65,44),(20.8,43),(20.99,43),(21.15,42),(21.33,40),(21.5,38),(21.66,37),(21.8,36),(21.93,35),(21.99,33),(22.0,15)]]}}

P18 = {"title": "#18", "sigs": GPS1, "lines": {
    "L1CA": [[(21.06,39),(21.1,36),(21.13,34),(21.2,37),(21.3,39),(21.4,38),(21.5,40),(21.6,41),(21.66,40),(21.75,42),(21.85,43),(21.9,44),(21.95,43),(22.0,46)]]}}

P20 = {"title": "#20", "sigs": GPS1, "lines": {
    "L1CA": [[(18.15,36),(18.3,38),(18.45,39),(18.6,41),(18.75,42),(18.9,43),(19.05,44),(19.2,45),(19.4,46),(19.55,47),(19.7,47),(19.98,48),(20.1,47),(20.31,47),(20.32,43),(20.35,46),(20.5,46.5),(20.7,46.5),(20.9,46.5),(21.1,46.5),(21.3,47),(21.5,46.5),(21.7,47),(21.9,46.5),(22.0,47)]]}}

P21 = {"title": "#21", "sigs": GPS1, "lines": {
    "L1CA": [[(16.4,40),(16.5,41),(16.6,40),(16.74,42),(16.9,43),(17.07,45),(17.2,46),(17.41,47),(17.6,48),(17.8,48),(17.95,49),(18.1,48),(18.3,48),(18.6,47),(18.9,47),(19.3,46.5),(19.5,47),(19.7,46.5),(19.9,47),(20.0,44),(20.05,47),(20.3,46.5),(20.5,47),(20.7,46),(20.99,46),(21.15,45),(21.33,44),(21.5,43),(21.66,42),(21.85,41),(22.0,39)]]}}

P23 = {"title": "#23", "sigs": GPS1, "lines": {
    "L1CA": [[(16.4,37),(16.45,39),(16.5,36),(16.6,38),(16.74,39),(16.87,38),(17.0,39),(17.05,37),(17.1,33),(17.12,28),(17.14,15)]]}}

P24 = {"title": "#24", "sigs": GPS3, "lines": {
    "L1CA": [[(21.93,37),(21.95,35),(21.97,39),(22.0,40)]],
    "L2C": [[(21.94,40),(21.97,42),(22.0,43)]],
    "L5": [[(21.94,41),(21.97,43),(22.0,44)]]}}

P25 = {"title": "#25", "sigs": GPS3, "lines": {
    "L1CA": [[(15.25,52),(15.35,52),(15.45,51),(15.59,51),(15.75,51),(15.93,50),(16.1,50),(16.26,49),(16.45,48),(16.6,48),(16.8,47),(16.94,46),(17.1,45),(17.28,44),(17.45,43),(17.61,42),(17.8,40),(17.95,38),(18.08,35),(18.22,32),(18.3,28),(18.36,25),(18.45,27),(18.55,22),(18.63,18)]],
    "L2C": [[(15.25,50),(15.35,52),(15.45,52),(15.59,51),(15.75,51),(15.93,50),(16.1,50),(16.26,49),(16.45,48),(16.6,48),(16.8,47),(16.94,46),(17.1,45),(17.28,44),(17.45,43),(17.61,42),(17.8,41),(17.9,40),(18.02,38),(18.15,34),(18.22,30),(18.3,24),(18.36,18),(18.4,23),(18.45,19),(18.5,15)]],
    "L5": [[(15.25,54),(15.35,54),(15.45,53),(15.59,53),(15.75,52),(15.93,52),(16.1,52),(16.26,52),(16.6,51),(16.94,51),(17.1,50),(17.28,50),(17.45,49),(17.61,48),(17.8,47),(17.95,46),(18.08,45),(18.22,43),(18.29,38),(18.36,30),(18.42,32),(18.49,28),(18.55,25),(18.6,15)]]}}

P26 = {"title": "#26", "sigs": GPS3, "lines": {
    "L1CA": [[(16.47,38),(16.55,37),(16.6,40),(16.75,42),(16.94,43),(17.1,44),(17.28,45),(17.45,46),(17.6,47),(17.8,48),(17.95,48),(18.1,49),(18.29,48),(18.45,49),(18.63,49),(18.8,48),(18.96,48),(19.1,47),(19.3,47),(19.5,45),(19.64,44),(19.8,43),(19.98,42),(20.15,41),(20.31,40),(20.5,39),(20.65,38),(20.8,37),(20.93,36),(20.99,34),(21.02,17)],
             [(21.05,25),(21.07,20),(21.09,24),(21.11,19)]],
    "L2C": [[(16.47,42),(16.6,44),(16.75,45),(16.94,46),(17.1,46),(17.28,47),(17.45,48),(17.6,49),(17.8,50),(18.0,51),(18.15,52),(18.29,53),(18.45,52),(18.63,51),(18.8,50),(18.96,50),(19.1,49),(19.3,49),(19.5,48),(19.64,47),(19.8,46),(19.98,45),(20.15,45),(20.31,44),(20.5,43),(20.65,42),(20.8,42),(20.93,41),(20.99,35),(21.02,15)]],
    "L5": [[(16.47,45),(16.6,46),(16.75,47),(16.94,47),(17.1,48),(17.28,48),(17.45,50),(17.6,51),(17.8,52),(18.0,53),(18.15,52),(18.29,52),(18.45,53),(18.63,52),(18.8,52),(18.96,53),(19.1,51),(19.3,51),(19.5,50),(19.64,49),(19.8,48),(19.98,47),(20.15,46),(20.31,47),(20.5,45),(20.65,44),(20.8,44),(20.93,43),(20.99,40),(21.02,17)]]}}

P27 = {"title": "#27", "sigs": GPS3, "lines": {
    "L1CA": [[(18.42,36),(18.5,38),(18.63,38),(18.8,40),(18.96,40),(19.1,41),(19.25,42),(19.45,43),(19.64,44),(19.8,44),(19.98,45),(20.15,46),(20.31,47),(20.5,48),(20.65,49),(20.8,49),(20.99,51),(21.15,51),(21.33,51),(21.5,51),(21.66,51),(21.8,50),(22.0,49)]],
    "L2C": [[(18.42,35),(18.5,40),(18.63,40),(18.8,43),(18.96,44),(19.1,45),(19.25,46),(19.45,47),(19.64,48),(19.8,48),(19.98,49),(20.15,50),(20.31,50),(20.5,51),(20.65,52),(20.8,53),(20.99,53),(21.15,53),(21.33,53),(21.5,52),(21.66,53),(21.8,52),(22.0,51)]],
    "L5": [[(18.42,42),(18.5,43),(18.63,45),(18.8,46),(18.96,46),(19.1,47),(19.25,48),(19.45,49),(19.64,50),(19.8,50),(19.98,51),(20.15,52),(20.31,52),(20.5,53),(20.65,54),(20.8,55),(20.99,55),(21.15,55),(21.33,55),(21.5,54),(21.66,55),(21.8,54),(22.0,53)]]}}

P29 = {"title": "#29", "sigs": GPS2, "lines": {
    "L1CA": [[(15.25,49),(15.4,50),(15.6,49),(15.8,50),(16.06,50),(16.3,51),(16.6,50),(16.87,51),(16.94,52),(17.2,51),(17.55,51),(17.8,50),(18.09,50),(18.3,49),(18.56,49),(18.7,48),(18.9,47),(19.05,46),(19.23,44),(19.35,45),(19.44,43),(19.5,41),(19.57,40),(19.7,40),(19.84,40),(19.95,38),(20.04,35),(20.07,28),(20.08,17)]],
    "L2C": [[(15.25,46),(15.4,47),(15.59,48),(15.8,49),(16.06,50),(16.3,51),(16.6,51),(16.94,52),(17.1,51),(17.28,51),(17.5,50),(17.7,49),(17.95,49),(18.1,47),(18.3,46),(18.5,45),(18.7,44),(18.8,42),(18.9,43),(19.03,40),(19.2,41),(19.3,39),(19.5,40),(19.7,40),(19.9,37),(20.0,33),(20.06,30),(20.08,15)]]}}

P31 = {"title": "#31", "sigs": GPS2, "lines": {
    "L1CA": [[(15.25,44),(15.35,46),(15.45,47),(15.6,48),(15.75,47),(15.93,48),(16.1,49),(16.26,47),(16.45,49),(16.6,48),(16.75,49),(16.94,48),(17.1,47),(17.28,47),(17.4,46),(17.48,45),(17.6,46),(17.68,44),(17.8,43),(17.95,43),(18.03,41),(18.1,42),(18.22,43),(18.29,39),(18.33,30),(18.36,27),(18.42,25),(18.5,27),(18.56,25),(18.63,27),(18.66,24),(18.69,18)]],
    "L2C": [[(15.25,40),(15.3,44),(15.4,46),(15.6,47),(15.8,46),(15.93,47),(16.1,47),(16.26,46),(16.45,48),(16.6,47),(16.75,46),(16.94,45),(17.1,44),(17.28,43),(17.4,41),(17.48,42),(17.6,44),(17.68,42),(17.8,40),(17.9,42),(18.0,38),(18.08,36),(18.15,38),(18.22,43),(18.28,35),(18.33,15)]]}}

P32 = {"title": "#32", "sigs": GPS3, "lines": {
    "L1CA": [[(21.5,39),(21.55,40),(21.6,38),(21.7,40),(21.8,41),(21.9,42),(22.0,42)]],
    "L2C": [[(21.46,32),(21.5,40),(21.53,41),(21.6,42),(21.7,43),(21.8,43),(21.9,44),(22.0,44)]],
    "L5": [[(21.46,36),(21.5,42),(21.53,43),(21.6,44),(21.7,44),(21.8,45),(21.9,46),(22.0,46)]]}}

PANELS = [G01, G02, G03, G04, G05, G07, G08,
          G09, G10, G11, G12, G13, G14, G15,
          G16, G17, G18, G19, G20, G21, G23,
          G24, G26, P01, P02, P05, P06, P07,
          P08, P09, P10, P11, P12, P13, P14,
          P15, P16, P18, P20, P21, P23, P24,
          P25, P26, P27, P29, P31, P32]

# legend placement (pixels from the plot's top-left corner)
LEGEND_POS = [(208,15), (-5,-55), (7,-9), (208,15), (12,-28), (208,15), (208,15),
              (255,-18), (20,-14), (106,8), (45,2), (27,1), (208,15), (208,15),
              (208,15), (208,15), (260,-46), (8,4), (38,5), (37,-1), (208,15),
              (208,15), (55,0), (208,15), (208,15), (208,15), (208,15), (241,2),
              (21,10), (207,15), (14,5), (20,8), (208,15), (17,11), (208,15),
              (31,13), (21,11), (106,18), (0,13), (10,-8), (209,15), (33,4),
              (207,15), (259,-29), (25,-7), (228,1), (206,15), (5,-7)]

PW, PH = 299, 100
TXT = "#262626"
TK = 3  # inward tick length

# axes are pulled inside the plot by the tick length so the ticks point inward (MATLAB box style)
X_AXIS_BOTTOM = alt.Axis(values=X_TICKS, labelExpr="datum.value == 16 ? '18/03' : datum.value + ':00'",
                         labelOverlap=False, labelFlush=False, labelBound=False, ticks=True,
                         tickSize=TK, offset=-TK, tickColor=TXT, labelPadding=9, labelFontSize=15,
                         domain=False, grid=False, title=None)
X_AXIS_TOP = alt.Axis(orient="top", values=X_TICKS, labels=False, ticks=True, tickSize=TK,
                      offset=-TK, tickColor=TXT, domain=False, grid=False, title=None)
Y_AXIS_LEFT = alt.Axis(values=Y_TICKS, ticks=True, tickSize=TK, offset=-TK, tickColor=TXT,
                       labelPadding=8, labelFontSize=13.5, domain=False, grid=False,
                       title="q, dBHz", titleFontSize=15.5, titleFontWeight="normal", titlePadding=9)
Y_AXIS_RIGHT = alt.Axis(orient="right", values=Y_TICKS, labels=False, ticks=True, tickSize=TK,
                        offset=-TK, tickColor=TXT, domain=False, grid=False, title=None)


def make_panel(p, pos):
    sigs = p["sigs"]
    cscale = alt.Scale(domain=sigs, range=[COLORS[s] for s in sigs])
    legend = alt.Legend(orient="none", legendX=pos[0], legendY=pos[1], title=None)
    xs = alt.Scale(domain=X_DOMAIN, nice=False, zero=False)
    ys = alt.Scale(domain=Y_DOMAIN, nice=False, zero=False)
    layers = []
    first_df = None
    for sig in sigs:
        if sig == "L2SF" and "band" in p:
            for seg in p["band"]:
                bdf = pd.DataFrame({"t": [r[0] for r in seg], "lo": [r[1] for r in seg],
                                    "hi": [r[2] for r in seg]})
                layers.append(alt.Chart(bdf).mark_area(
                    clip=True, color=COLORS["L2SF"], opacity=0.95, orient="vertical").encode(
                    x=alt.X("t:Q", scale=xs, axis=None),
                    y=alt.Y("lo:Q", scale=ys, axis=None),
                    y2=alt.Y2("hi:Q")))
        if sig not in p["lines"]:
            continue
        rows = []
        for k, seg in enumerate(p["lines"][sig]):
            for i, (t, v) in enumerate(seg):
                rows.append({"sig": sig, "seg": k, "i": i, "t": t, "v": v})
        df = pd.DataFrame(rows)
        if first_df is None:
            first_df = df
        layers.append(alt.Chart(df).mark_line(
            clip=True, strokeWidth=1.1).encode(
            x=alt.X("t:Q", scale=xs, axis=None),
            y=alt.Y("v:Q", scale=ys, axis=None),
            color=alt.Color("sig:N", scale=cscale, legend=legend),
            detail="seg:N", order="i:Q"))
    # two invisible layers that only carry the box axes (bottom/left and top/right)
    ax1 = alt.Chart(first_df).mark_line(opacity=0).encode(
        x=alt.X("t:Q", scale=xs, axis=X_AXIS_BOTTOM), y=alt.Y("v:Q", scale=ys, axis=Y_AXIS_LEFT))
    ax2 = alt.Chart(first_df).mark_line(opacity=0).encode(
        x=alt.X("t:Q", scale=xs, axis=X_AXIS_TOP), y=alt.Y("v:Q", scale=ys, axis=Y_AXIS_RIGHT))
    # titles are placed from the panel's bounds, which include legends above the plot;
    # shift them back down by the amount the legend sticks out
    shift = max(0, -pos[1])
    return alt.layer(ax1, ax2, *layers).resolve_axis(x="independent", y="independent").properties(
        width=PW, height=PH,
        title=alt.TitleParams(text=p["title"], fontSize=16, fontWeight="normal",
                              frame="group", offset=7, anchor="middle", color="#000000",
                              dy=shift))


panels = [make_panel(p, pos) for p, pos in zip(PANELS, LEGEND_POS)]

chart = alt.concat(*panels, columns=7, spacing={"row": 55, "column": 98}, bounds="flush").resolve_scale(
    color="independent"
).resolve_legend(color="independent").properties(
    padding={"left": 392, "top": 43, "right": 10, "bottom": 10}
).configure(font="DejaVu Sans", background="white").configure_view(
    stroke=TXT, strokeWidth=1
).configure_axis(labelColor=TXT, titleColor=TXT, labelFont="DejaVu Sans", titleFont="DejaVu Sans"
).configure_legend(strokeColor=TXT, fillColor="white", padding=4, labelFontSize=12, labelColor=TXT,
                   labelFont="DejaVu Sans", symbolType="M-1,0L5,0", symbolSize=94,
                   symbolStrokeWidth=1.5, rowPadding=4.5, labelOffset=22, cornerRadius=0
).configure_title(font="DejaVu Sans", color="#000000")

chart.save("out.html", embed_options={"renderer": "svg", "actions": False})
